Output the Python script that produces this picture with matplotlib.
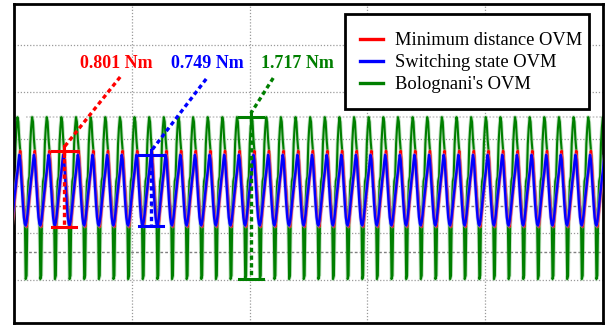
import numpy as np
import matplotlib
matplotlib.use("Agg")
import matplotlib.pyplot as plt
from matplotlib.patches import Rectangle

# one cycle of each torque waveform (Nm), 16 samples/cycle
red_cycle = [-0.38, -0.430, -0.36, -0.26, -0.16, -0.06, 0.04, 0.12,
             0.20, 0.30, 0.371, 0.25, 0.08, -0.10, -0.25, -0.34]
blue_cycle = [-0.419, -0.38, -0.30, -0.20, -0.10, -0.02, 0.08, 0.15,
              0.25, 0.330, 0.28, 0.12, -0.05, -0.20, -0.33, -0.40]
green_cycle = [-0.987, -0.95, -0.22, 0.05, 0.10, 0.45, 0.62, 0.730,
               0.68, 0.50, 0.38, 0.20, 0.02, -0.05, -0.20, -0.25]
n_cycles = 41
period = 0.1242
t_start = -0.025

labels = ["Minimum distance OVM", "Switching state OVM", "Bolognani's OVM"]
colors = ["#ff0000", "#0000ff", "#007f00"]
halo = ["#ff9090", "#9090ff", "#80c080"]
ripple_text = ["0.801 Nm", "0.749 Nm", "1.717 Nm"]
text_pos = [(0.867, 1.30), (1.640, 1.30), (2.404, 1.30)]
bar_x = [0.425, 1.164, 2.010]
leader_start = [(0.901, 1.156), (1.631, 1.135), (2.200, 1.145)]

spc = len(red_cycle)
t = t_start + np.arange(n_cycles * spc + 1) * period / spc
red = np.append(np.tile(red_cycle, n_cycles), red_cycle[0])
blue = np.append(np.tile(blue_cycle, n_cycles), blue_cycle[0])
green = np.append(np.tile(green_cycle, n_cycles), green_cycle[0])
series = [red, blue, green]

fig = plt.figure(figsize=(6.08, 3.27), dpi=100)
ax = fig.add_axes([0.023, 0.0122, 0.969, 0.9756])
ax.set_xlim(0, 5)
ax.set_ylim(-1.453, 1.930)

# grid
for gx in [1, 2, 3, 4]:
    ax.axvline(gx, color="#9a9a9a", lw=0.9, ls=(0, (1, 1.5)), zorder=0)
for gy in [1.5, 1.0, 0.5, 0.0, -0.5, -1.0]:
    ax.axhline(gy, color="#9a9a9a", lw=0.9, ls=(0, (1, 1.5)), zorder=0)
for gy in [-0.21, -0.70]:
    ax.axhline(gy, color="#808080", lw=1.0, ls=(0, (2, 1.5)), zorder=0)
ax.axhline(green.max(), xmin=0.02, xmax=1, color="#c8c8c8", lw=1.2,
           ls=(0, (1, 1)), zorder=0)

# waveforms (light halo underneath, as in the scope capture)
for s, c, h, z, w in [(green, colors[2], halo[2], 2, 1.5), (red, colors[0], halo[0], 3, 1.7),
                      (blue, colors[1], halo[1], 4, 1.7)]:
    ax.plot(t, s, color=h, lw=2.8, alpha=0.45, zorder=z)
    ax.plot(t, s, color=c, lw=w, zorder=z)

# ripple markers
for s, c, txt, tp, bx, ls in zip(series, colors, ripple_text, text_pos, bar_x, leader_start):
    top, bot = s.max(), s.min()
    hw = 0.10
    ax.plot([bx - hw, bx + hw], [top, top], color=c, lw=2.2, zorder=6)
    ax.plot([bx - hw, bx + hw], [bot, bot], color=c, lw=2.2, zorder=6)
    ax.plot([bx, bx], [top - 0.05, top + 0.05], color=c, lw=2.2, zorder=6)
    ax.plot([bx, bx], [top, bot], color=c, lw=2.4, ls=(0, (1.3, 1.0)), zorder=6)
    ax.plot([ls[0], bx], [ls[1], top + 0.04], color=c, lw=2.4,
            ls=(0, (1.3, 1.0)), zorder=6)
    ax.text(tp[0], tp[1], txt, color=c, fontsize=13, fontweight="bold",
            family="Liberation Serif", ha="center", va="center", zorder=7)

ax.set_xticks([])
ax.set_yticks([])
for sp in ax.spines.values():
    sp.set_linewidth(2.0)
    sp.set_color("black")

# legend box drawn separately so padding can match the original
ax.add_patch(Rectangle((0.562, 0.671), 0.414, 0.298, transform=ax.transAxes,
                       facecolor="white", edgecolor="black", lw=2.0, zorder=9))
handles = [plt.Line2D([], [], color=c, lw=2.4) for c in colors]
leg = ax.legend(handles, labels, loc="upper left", bbox_to_anchor=(0.587, 0.911),
                prop={"family": "Liberation Serif", "size": 13.3},
                frameon=False, handlelength=1.25, handletextpad=0.65,
                labelspacing=0.27, borderpad=0, borderaxespad=0)
leg.set_zorder(10)

fig.savefig("out.png", dpi=100)
